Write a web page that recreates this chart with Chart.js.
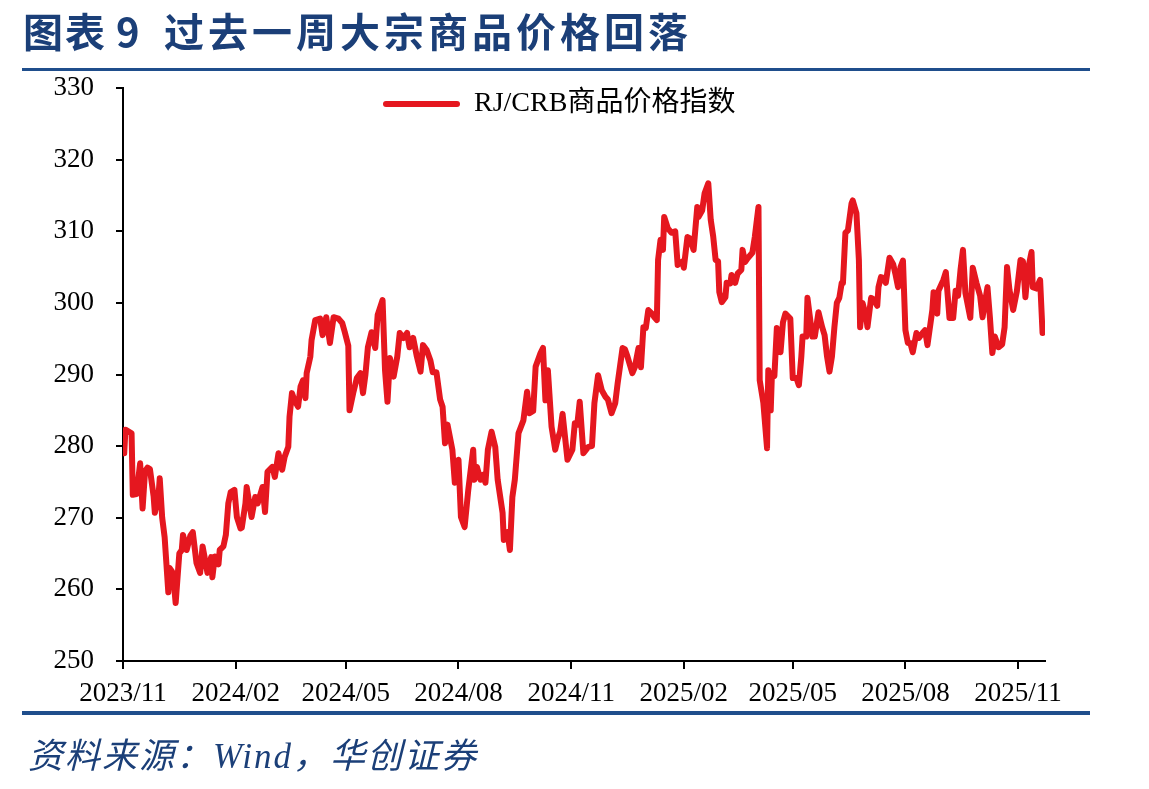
<!DOCTYPE html>
<html>
<head>
<meta charset="utf-8">
<script src="https://cdn.jsdelivr.net/npm/chart.js@4.4.1/dist/chart.umd.min.js"></script>
<style>
   html, body { margin: 0; padding: 0; background: #fff; }
   body { width: 1149px; height: 789px; position: relative; overflow: hidden; }
   #wrap { position: absolute; left: 0; top: 0; width: 1149px; height: 789px; }
   .title { position: absolute; top: 8px; font-family: "Noto Sans CJK SC", sans-serif;
      font-weight: bold; font-size: 40px; line-height: 44px; color: #1b3f78; white-space: nowrap; }
   .rule { position: absolute; left: 22px; width: 1068px; background: #1f4e8c; }
   .source { position: absolute; left: 28px; top: 737px; font-family: "Liberation Serif", "Noto Sans CJK SC", serif;
      font-style: italic; font-size: 35px; line-height: 40px; letter-spacing: 2px; color: #1b3f78; white-space: nowrap; }
</style>
</head>
<body>
<div id="wrap"><canvas id="canvasCrb" width="1149" height="789"></canvas></div>
<div class="title" style="left:23px;letter-spacing:2px">图表</div>
<div class="title" style="left:116px">9</div>
<div class="title" style="left:164px;letter-spacing:4px">过去一周大宗商品价格回落</div>
<div class="rule" style="top:68px;height:3px"></div>
<div class="rule" style="top:711px;height:4px"></div>
<div class="source">资料来源：Wind，华创证券</div>

<script>
/* days counted from 2023-11-01 */
const days = [
   0, 1, 2, 5, 7, 8, 11, 14, 16, 18, 20, 22, 25, 26, 29, 30, 32, 34, 37, 38,
   40, 42, 43, 46, 48, 49, 52, 55, 57, 60, 63, 65, 69, 72, 73, 75, 78, 79, 82, 84,
   86, 88, 91, 93, 96, 97, 100, 101, 105, 108, 110, 114, 116, 118, 122, 124, 127, 130, 132, 135,
   136, 138, 140, 143, 145, 147, 149, 150, 153, 154, 157, 161, 163, 166, 169, 172, 176, 179, 181, 184,
   185, 188, 191, 194, 196, 198, 200, 203, 206, 208, 212, 214, 216, 218, 221, 224, 226, 229, 232, 234,
   237, 240, 243, 245, 248, 251, 253, 256, 259, 261, 263, 265, 269, 271, 274, 276, 279, 282, 286, 287,
   289, 292, 294, 296, 298, 301, 304, 306, 310, 311, 314, 316, 318, 320, 323, 327, 330, 332, 335, 337,
   341, 343, 345, 347, 350, 353, 355, 357, 359, 363, 367, 369, 371, 373, 376, 380, 383, 385, 388, 391,
   394, 396, 399, 402, 404, 408, 410, 412, 416, 418, 421, 423, 425, 427, 429, 432, 434, 436, 437, 439,
   441, 442, 445, 448, 451, 453, 457, 458, 461, 463, 466, 469, 470, 473, 475, 478, 480, 482, 484, 486,
   487, 489, 492, 493, 496, 497, 500, 502, 505, 506, 508, 510, 514, 516, 519, 520, 523, 526, 527, 529,
   530, 532, 534, 537, 539, 541, 545, 547, 550, 552, 554, 555, 558, 559, 563, 565, 568, 571, 573, 575,
   577, 579, 581, 583, 585, 587, 588, 590, 592, 595, 596, 599, 601, 602, 604, 607, 608, 611, 613, 616,
   617, 619, 621, 623, 626, 629, 631, 633, 635, 637, 639, 641, 643, 645, 648, 650, 653, 655, 657, 661,
   662, 665, 666, 670, 672, 675, 678, 680, 682, 684, 686, 688, 692, 694, 697, 700, 702, 704, 706, 708,
   710, 712, 715, 718, 720, 722, 724, 727, 730, 733, 735, 737, 739, 742, 743, 746, 749, 751
];

const crbIndex = [
   282.0, 279.0, 282.3, 282.0, 281.8, 273.2, 273.3, 277.6, 271.3, 276.5, 277.0, 276.8, 273.0, 270.7, 273.0, 275.5, 270.0, 267.3, 259.6, 263.0,
   262.5, 260.0, 258.1, 265.0, 265.5, 267.6, 265.5, 267.5, 268.0, 263.7, 262.3, 266.0, 262.3, 264.5, 261.7, 264.6, 263.5, 265.5, 266.0, 267.6,
   272.0, 273.6, 273.9, 270.1, 268.5, 268.6, 272.0, 274.3, 270.1, 272.9, 272.0, 274.3, 270.8, 276.4, 277.1, 275.7, 279.0, 276.7, 278.5, 279.9,
   284.1, 287.4, 286.4, 285.5, 288.3, 289.2, 286.7, 290.2, 292.5, 294.8, 297.6, 297.8, 295.5, 298.0, 294.4, 298.0, 297.8, 297.2, 296.0, 294.0,
   285.0, 287.4, 289.5, 290.2, 287.4, 290.0, 293.8, 295.9, 293.7, 298.3, 300.4, 290.6, 286.2, 292.3, 289.7, 292.5, 295.8, 295.1, 295.8, 293.8,
   295.1, 292.5, 290.4, 294.1, 293.4, 292.0, 290.3, 290.3, 286.5, 285.5, 280.4, 283.0, 279.5, 274.9, 278.1, 270.1, 268.7, 273.9, 279.5, 275.3,
   277.1, 275.3, 276.0, 274.9, 279.5, 282.0, 279.9, 275.3, 270.7, 266.9, 268.0, 265.5, 272.9, 275.3, 281.8, 283.6, 287.6, 284.6, 284.9, 291.1,
   293.0, 293.7, 286.4, 290.6, 282.7, 279.5, 281.0, 282.0, 284.5, 278.1, 279.5, 283.2, 283.0, 286.2, 279.0, 279.9, 280.0, 286.0, 289.9, 287.8,
   286.9, 286.5, 284.6, 286.0, 288.8, 293.7, 293.5, 292.5, 290.2, 291.0, 293.7, 291.0, 296.6, 296.5, 299.0, 298.5, 298.0, 297.6, 306.0, 308.8,
   307.4, 312.0, 310.4, 309.8, 310.0, 305.3, 305.8, 304.9, 309.2, 309.0, 307.4, 313.4, 312.0, 312.9, 315.3, 316.7, 311.6, 309.3, 306.0, 305.8,
   301.5, 300.1, 300.8, 302.8, 302.7, 303.9, 302.8, 304.1, 304.6, 307.4, 305.7, 306.2, 307.0, 309.2, 313.4, 289.2, 286.0, 279.7, 290.6, 285.0,
   290.2, 289.8, 296.5, 293.1, 297.3, 298.5, 297.8, 289.5, 289.5, 288.5, 292.5, 295.3, 295.3, 300.7, 295.3, 295.3, 298.7, 296.6, 295.5, 292.5,
   290.4, 292.5, 296.6, 300.0, 300.7, 302.8, 302.8, 309.8, 310.1, 313.9, 314.3, 312.5, 306.0, 296.6, 300.0, 298.0, 296.6, 300.7, 300.5, 299.6,
   302.2, 303.6, 303.5, 302.8, 306.3, 305.4, 303.9, 302.2, 305.0, 305.9, 296.2, 294.4, 294.4, 293.1, 295.8, 295.1, 295.8, 296.2, 294.1, 299.0,
   301.5, 298.5, 301.7, 303.2, 304.3, 297.9, 297.9, 301.7, 301.0, 304.6, 307.4, 301.4, 297.9, 304.9, 302.8, 301.0, 298.0, 300.1, 302.2, 298.0,
   293.0, 295.3, 293.8, 294.2, 296.6, 305.0, 301.8, 299.0, 301.6, 306.0, 305.8, 300.8, 304.6, 307.1, 302.2, 302.0, 303.2, 295.8
];

const tickDays = [0, 92, 182, 274, 366, 458, 547, 639, 731];
const tickLabels = ["2023/11", "2024/02", "2024/05", "2024/08", "2024/11", "2025/02", "2025/05", "2025/08", "2025/11"];

const RED = "#e5171f";
const TICK_FONT = {family: "'Liberation Serif', 'Times New Roman', serif", size: 27};

let points = days.map((d, i) => ({x: d, y: crbIndex[i]}));

/* legend sits inside the plot, a bit left of centre */
const legendSpot = {
   id: "legendSpot",
   afterLayout(chart) {
      chart.legend.left = 373;
      chart.legend.top = 80;
   }
};

let ctx = document.getElementById("canvasCrb");
let chart = new Chart(ctx, {
   type: "line",
   data: {
      datasets: [{
         label: "RJ/CRB商品价格指数",
         data: points,
         borderColor: RED,
         backgroundColor: RED,
         borderWidth: 6,
         borderJoinStyle: "round",
         borderCapStyle: "round",
         pointRadius: 0,
         tension: 0
      }]
   },
   options: {
      responsive: false,
      animation: false,
      layout: {padding: {left: 43, top: 88, right: 104, bottom: 78}},
      scales: {
         x: {
            type: "linear",
            min: 0,
            max: 753,
            afterFit: (s) => { s.height = 50; },
            afterBuildTicks: (s) => { s.ticks = tickDays.map(v => ({value: v})); },
            ticks: {
               autoSkip: false,
               maxRotation: 0,
               color: "#000",
               font: TICK_FONT,
               padding: 9,
               callback: (v) => tickLabels[tickDays.indexOf(v)]
            },
            grid: {display: true, drawOnChartArea: false, drawTicks: true, tickLength: 8, color: "#000", lineWidth: 2},
            border: {display: true, color: "#000", width: 2}
         },
         y: {
            min: 250,
            max: 330,
            afterFit: (s) => { s.width = 80; },
            ticks: {stepSize: 10, color: "#000", font: TICK_FONT, padding: 22},
            grid: {display: true, drawOnChartArea: false, drawTicks: true, tickLength: 7, color: "#000", lineWidth: 2},
            border: {display: true, color: "#000", width: 2}
         }
      },
      plugins: {
         tooltip: {enabled: false},
         legend: {
            display: true,
            position: "chartArea",
            align: "start",
            labels: {
               color: "#000",
               font: {family: "'Liberation Serif', 'Noto Sans CJK SC', serif", size: 28},
               boxWidth: 77,
               boxHeight: 6,
               padding: 10,
               generateLabels: (c) => Chart.defaults.plugins.legend.labels.generateLabels(c)
                  .map(l => ({...l, lineWidth: 0, fillStyle: RED, borderRadius: 3}))
            }
         }
      }
   },
   plugins: [legendSpot]
});
</script>
</body>
</html>
